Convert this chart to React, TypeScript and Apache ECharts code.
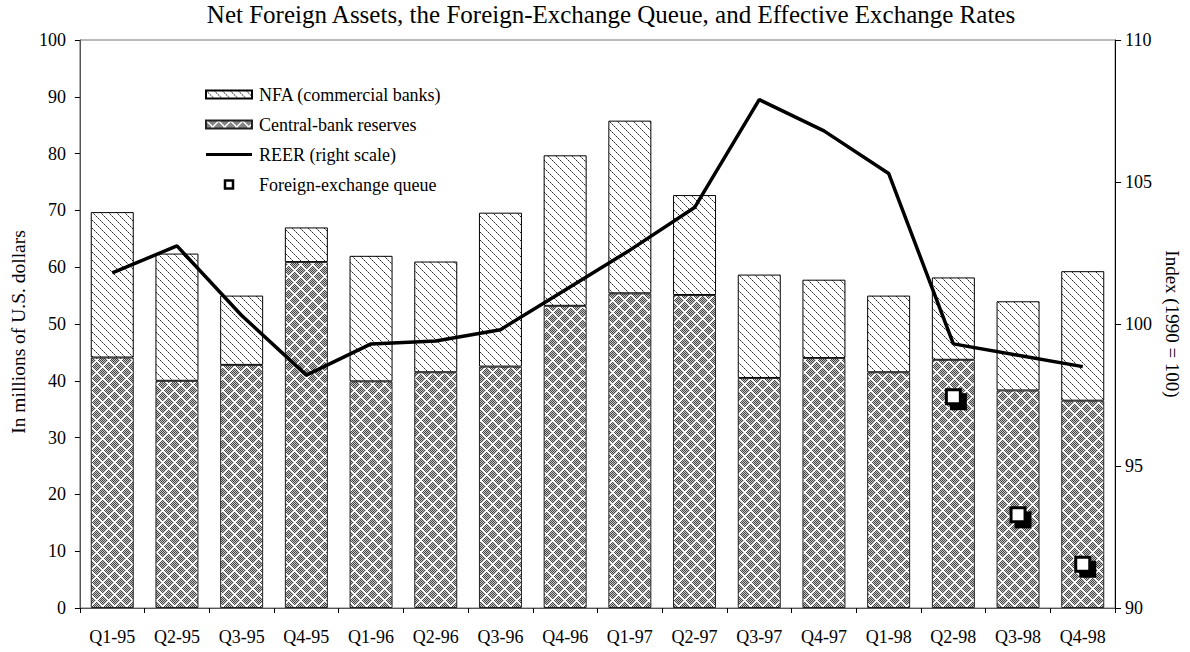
import React, { useEffect, useRef } from "react";
import * as echarts from "echarts";

const categories = ["Q1-95", "Q2-95", "Q3-95", "Q4-95", "Q1-96", "Q2-96", "Q3-96", "Q4-96", "Q1-97", "Q2-97", "Q3-97", "Q4-97", "Q1-98", "Q2-98", "Q3-98", "Q4-98"];
const reserves = [44.1, 40.0, 42.8, 60.9, 39.9, 41.5, 42.5, 53.2, 55.4, 55.1, 40.5, 44.0, 41.5, 43.7, 38.3, 36.5];
const nfa = [25.6, 22.4, 12.2, 6.1, 22.1, 19.5, 27.1, 26.5, 30.4, 17.6, 18.2, 13.8, 13.5, 14.5, 15.7, 22.8];
const reer = [101.8, 102.75, 100.3, 98.2, 99.3, 99.4, 99.8, 101.2, 102.6, 104.1, 107.9, 106.8, 105.3, 99.3, 98.9, 98.5];
const queue = [null, null, null, null, null, null, null, null, null, null, null, null, null, 37.2, 16.4, 7.7];

const FONT = "Liberation Serif";

function makeHatch(): HTMLCanvasElement {
  const s = 8;
  const c = document.createElement("canvas");
  c.width = s;
  c.height = s;
  const ctx = c.getContext("2d")!;
  const img = ctx.createImageData(s, s);
  for (let y = 0; y < s; y++) {
    for (let x = 0; x < s; x++) {
      const i = (y * s + x) * 4;
      let v = 255;
      if (x === y) v = y % 2 === 0 ? 40 : 140;
      img.data[i] = v;
      img.data[i + 1] = v;
      img.data[i + 2] = v;
      img.data[i + 3] = 255;
    }
  }
  ctx.putImageData(img, 0, 0);
  return c;
}

function makeCross(): HTMLCanvasElement {
  const s = 12;
  const c = document.createElement("canvas");
  c.width = s;
  c.height = s;
  const ctx = c.getContext("2d")!;
  const img = ctx.createImageData(s, s);
  for (let y = 0; y < s; y++) {
    for (let x = 0; x < s; x++) {
      const i = (y * s + x) * 4;
      let v = (x + y) % 2 === 0 ? 70 : 195;
      const d1 = (x - y + s) % s;
      const d2 = (x + y) % s;
      if (d1 < 2 || d2 < 2) v = 255;
      img.data[i] = v;
      img.data[i + 1] = v;
      img.data[i + 2] = v;
      img.data[i + 3] = 255;
    }
  }
  ctx.putImageData(img, 0, 0);
  return c;
}

export default function App() {
  const ref = useRef<HTMLDivElement>(null);
  useEffect(() => {
    if (!ref.current) return;
    const chart = echarts.init(ref.current, null, { renderer: "svg" });
    const hatch = { image: makeHatch(), repeat: "repeat" };
    const cross = { image: makeCross(), repeat: "repeat" };
    const option: any = {
      animation: false,
      backgroundColor: "#fff",
      textStyle: { fontFamily: FONT, color: "#000" },
      title: {
        text: "Net Foreign Assets, the Foreign-Exchange Queue, and Effective Exchange Rates",
        left: 611,
        textAlign: "center",
        top: 2,
        padding: 0,
        textStyle: { fontFamily: FONT, fontSize: 25, fontWeight: "normal", color: "#000" },
      },
      legend: {
        orient: "vertical",
        left: 205,
        top: 85,
        padding: 0,
        itemWidth: 46,
        itemHeight: 8,
        itemGap: 11,
        selectedMode: false,
        textStyle: { fontFamily: FONT, fontSize: 18, color: "#000", lineHeight: 19, padding: [0, 0, 0, 2] },
        data: [
          { name: "NFA (commercial banks)", icon: "rect" },
          { name: "Central-bank reserves", icon: "rect" },
          { name: "REER (right scale)", icon: "path://M0 0H46V3H0Z", itemStyle: { color: "#000", borderWidth: 0 } },
          {
            name: "Foreign-exchange queue",
            icon: "path://M0 0H10V10H0Z",
            itemStyle: { color: "#fff", borderColor: "#000", borderWidth: 2.5 },
          },
        ],
      },
      grid: {
        left: 77,
        right: 69,
        top: 40,
        bottom: 44,
        show: true,
        borderColor: "#777",
        borderWidth: 1,
        backgroundColor: "transparent",
      },
      xAxis: {
        type: "category",
        data: categories,
        boundaryGap: true,
        axisLine: { lineStyle: { color: "#555", width: 1 } },
        axisTick: { show: true, length: 5, lineStyle: { color: "#000" } },
        axisLabel: { fontFamily: FONT, fontSize: 18, color: "#000", margin: 20 },
      },
      yAxis: [
        {
          type: "value",
          min: 0,
          max: 100,
          interval: 10,
          name: "In millions of U.S. dollars",
          nameLocation: "middle",
          nameGap: 49,
          nameTextStyle: { fontFamily: FONT, fontSize: 19.5, color: "#000", padding: [0, 16, 0, 0] },
          axisLine: { show: true, lineStyle: { color: "#555", width: 1 } },
          axisTick: { show: true, length: 5, lineStyle: { color: "#000" } },
          axisLabel: { fontFamily: FONT, fontSize: 18, color: "#000", margin: 14 },
          splitLine: { show: false },
        },
        {
          type: "value",
          min: 90,
          max: 110,
          interval: 5,
          position: "right",
          name: "Index (1990 = 100)",
          nameLocation: "middle",
          nameRotate: -90,
          nameGap: 44,
          nameTextStyle: { fontFamily: FONT, fontSize: 19, color: "#000" },
          axisLine: { show: true, lineStyle: { color: "#000", width: 1 } },
          axisTick: { show: true, length: 6, lineStyle: { color: "#000" } },
          axisLabel: { fontFamily: FONT, fontSize: 18, color: "#000", margin: 10 },
          splitLine: { show: false },
        },
      ],
      series: [
        {
          name: "Central-bank reserves",
          type: "bar",
          stack: "a",
          barWidth: 43,
          data: reserves,
          itemStyle: { color: cross, borderColor: "#222", borderWidth: 1 },
        },
        {
          name: "NFA (commercial banks)",
          type: "bar",
          stack: "a",
          barWidth: 43,
          data: nfa,
          itemStyle: { color: hatch, borderColor: "#000", borderWidth: 1 },
        },
        {
          name: "REER (right scale)",
          type: "line",
          yAxisIndex: 1,
          data: reer,
          symbol: "none",
          lineStyle: { color: "#000", width: 3.5 },
          itemStyle: { color: "#000" },
          z: 5,
        },
        {
          name: "queue-shadow",
          type: "scatter",
          data: queue,
          symbol: "rect",
          symbolSize: 17,
          symbolOffset: [5, 5],
          itemStyle: { color: "#000", opacity: 1 },
          z: 6,
        },
        {
          name: "Foreign-exchange queue",
          type: "scatter",
          data: queue,
          symbol: "rect",
          symbolSize: 14,
          itemStyle: { color: "#fff", borderColor: "#000", borderWidth: 3, opacity: 1 },
          z: 7,
        },
      ],
    };
    chart.setOption(option);
    return () => chart.dispose();
  }, []);
  return <div ref={ref} style={{ width: 1190, height: 652, position: "absolute", left: 0, top: 0 }} />;
}
